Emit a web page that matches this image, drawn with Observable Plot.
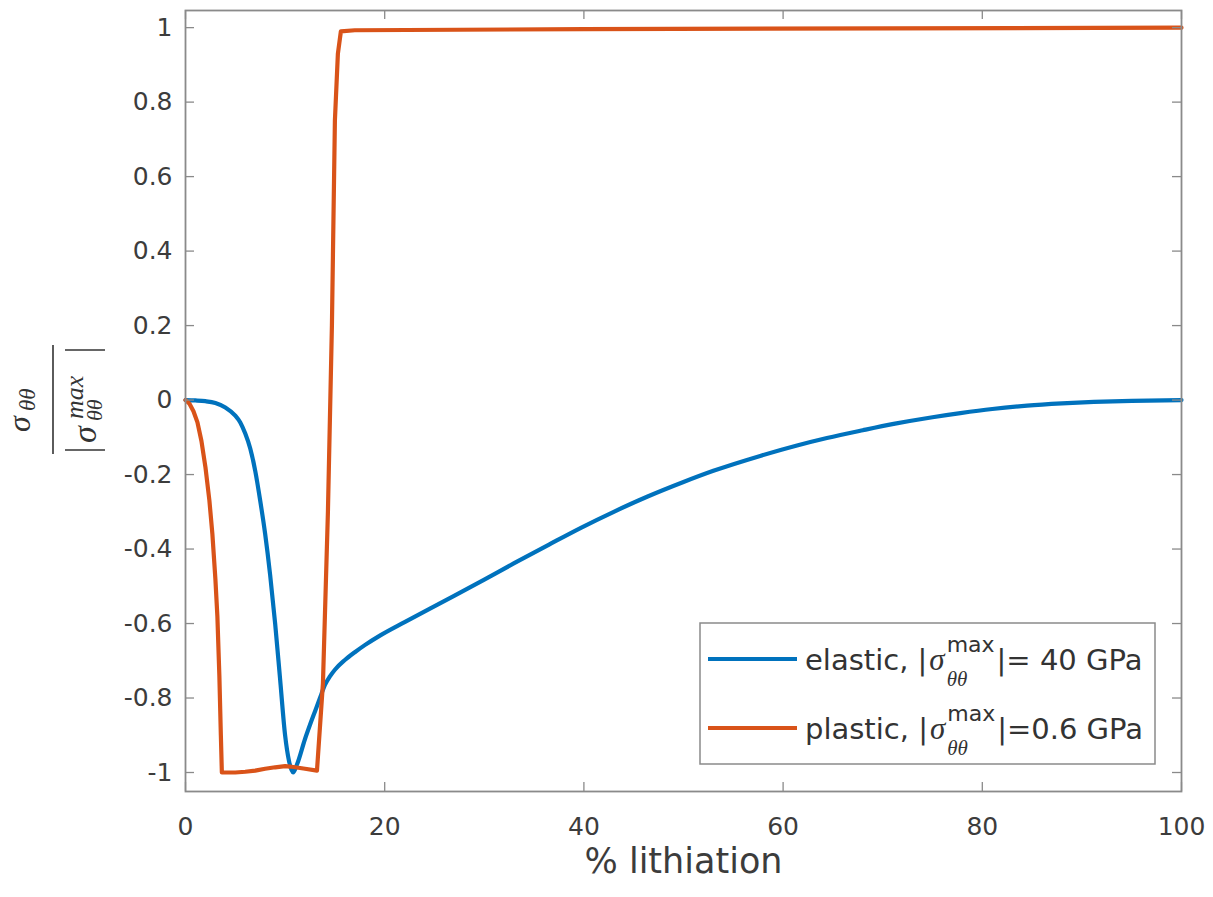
<!DOCTYPE html>
<html>
<head>
<meta charset="utf-8">
<script src="https://cdn.jsdelivr.net/npm/d3@7"></script>
<script src="https://cdn.jsdelivr.net/npm/@observablehq/plot@0.6"></script>
<style>
  html, body { margin: 0; padding: 0; background: #fff; }
  svg { display: block; }
</style>
</head>
<body>
<div id="chart"></div>
<script>
// ---- data ----
const xTicks = [0, 20, 40, 60, 80, 100];
const yTicks = [-1, -0.8, -0.6, -0.4, -0.2, 0, 0.2, 0.4, 0.6, 0.8, 1];
const xLabel = "% lithiation";

const elasticX = [0, 1, 2, 3, 4, 5, 5.5, 6, 6.5, 7, 7.5, 8, 8.5, 9, 9.5, 10, 10.4, 10.8, 11.2, 12, 12.5, 13, 13.5, 14, 14.5, 15, 16, 17, 18, 19.6, 22, 26.3, 30, 33, 36.5, 39.7, 43, 46.4, 50, 53, 57.7, 61.4, 64.4, 68, 71.1, 75, 77.8, 81, 84.5, 88, 91.2, 95, 100];
const elasticY = [0, -0.001, -0.003, -0.008, -0.02, -0.042, -0.06, -0.09, -0.13, -0.19, -0.27, -0.36, -0.47, -0.6, -0.75, -0.9, -0.97, -1.0, -0.978, -0.91, -0.872, -0.836, -0.80, -0.765, -0.742, -0.724, -0.698, -0.677, -0.658, -0.631, -0.596, -0.535, -0.482, -0.438, -0.388, -0.343, -0.300, -0.259, -0.220, -0.190, -0.150, -0.122, -0.102, -0.081, -0.064, -0.046, -0.035, -0.024, -0.015, -0.009, -0.005, -0.002, 0];

const plasticX = [0, 0.4, 0.8, 1.2, 1.6, 2.0, 2.4, 2.7, 3.0, 3.2, 3.4, 3.55, 3.65, 5, 6, 7, 8, 9, 10, 10.5, 11, 12, 13.2, 13.8, 14.3, 14.7, 15.0, 15.3, 15.6, 17, 40, 100];
const plasticY = [0, -0.01, -0.03, -0.06, -0.11, -0.18, -0.27, -0.36, -0.48, -0.58, -0.74, -0.9, -1.0, -1.0, -0.998, -0.995, -0.99, -0.986, -0.983, -0.984, -0.986, -0.99, -0.995, -0.76, -0.3, 0.2, 0.75, 0.93, 0.99, 0.993, 0.996, 1.0];

const seriesColors = ["#0072BD", "#D95319"];
const legendNames = ["elastic, |", "plastic, |"];
const legendValues = ["|= 40 GPa", "|=0.6 GPa"];

const elastic = elasticX.map((x, i) => ({x, y: elasticY[i]}));
const plastic = plasticX.map((x, i) => ({x, y: plasticY[i]}));

// ---- layout ----
const W = 1213, H = 897;
const mL = 185, mR = 32, mT = 10, mB = 106;
const fw = W - mL - mR, fh = H - mT - mB;
const axisColor = "#8a8a8a";
const textColor = "#3c3c3c";
const tk = 9;

const plot = Plot.plot({
  width: W, height: H,
  marginLeft: mL, marginRight: mR, marginTop: mT, marginBottom: mB,
  x: {domain: [0, 100]},
  y: {domain: [-1.051, 1.046]},
  style: {fontFamily: "DejaVu Sans", fontSize: "25px", color: textColor, background: "#fff"},
  marks: [
    Plot.line(elastic, {x: "x", y: "y", stroke: seriesColors[0], strokeWidth: 4.2, curve: "monotone-x"}),
    Plot.line(plastic, {x: "x", y: "y", stroke: seriesColors[1], strokeWidth: 4.2, curve: "linear"}),
    Plot.ruleX(xTicks, {x: d => d, stroke: axisColor, strokeWidth: 1.3, insetTop: fh - tk}),
    Plot.ruleX(xTicks, {x: d => d, stroke: axisColor, strokeWidth: 1.3, insetBottom: fh - tk}),
    Plot.ruleY(yTicks, {y: d => d, stroke: axisColor, strokeWidth: 1.3, insetRight: fw - tk}),
    Plot.ruleY(yTicks, {y: d => d, stroke: axisColor, strokeWidth: 1.3, insetLeft: fw - tk}),
    Plot.frame({stroke: axisColor, strokeWidth: 1.8}),
    Plot.axisX({ticks: xTicks, tickSize: 0, tickPadding: 26, label: null, tickFormat: d => String(d), fill: textColor}),
    Plot.axisY({ticks: yTicks, tickSize: 0, tickPadding: 13, label: null, tickFormat: d => String(+d.toFixed(1)), fill: textColor}),
    Plot.text([xLabel], {text: d => d, frameAnchor: "bottom", dy: 81, fontSize: 35, fill: textColor})
  ]
});
document.getElementById("chart").appendChild(plot);

const svg = d3.select(plot);
const mathFont = "Liberation Serif";

// ---- y-axis label (rotated fraction) ----
const yl = svg.append("g").attr("transform", "translate(56,400) rotate(-90)").attr("fill", "#333");
function mtext(g, str, x, y, size, italic, family) {
  return g.append("text").attr("x", x).attr("y", y).attr("font-size", size)
    .attr("text-anchor", "start")
    .attr("font-family", family || mathFont).attr("font-style", italic ? "italic" : "normal").text(str);
}
mtext(yl, "σ", -32, -26, 32, true);
mtext(yl, "θθ", -11, -21, 23, true);
yl.append("line").attr("x1", -54).attr("x2", 55).attr("y1", -3).attr("y2", -3).attr("stroke", "#333").attr("stroke-width", 1.6);
yl.append("line").attr("x1", -50).attr("x2", -50).attr("y1", 9).attr("y2", 49).attr("stroke", "#333").attr("stroke-width", 1.6);
yl.append("line").attr("x1", 50).attr("x2", 50).attr("y1", 9).attr("y2", 49).attr("stroke", "#333").attr("stroke-width", 1.6);
mtext(yl, "σ", -43, 40, 34, true);
mtext(yl, "max", -19, 27, 26, true);
mtext(yl, "θθ", -21, 46, 22, true);

// ---- legend ----
const lg = svg.append("g").attr("text-anchor", "start");
lg.append("rect").attr("x", 700).attr("y", 623).attr("width", 455).attr("height", 141)
  .attr("fill", "#fff").attr("stroke", axisColor).attr("stroke-width", 1.5);
const rowsY = [659, 728];
legendNames.forEach((name, i) => {
  const cy = rowsY[i];
  lg.append("line").attr("x1", 708).attr("x2", 797).attr("y1", cy).attr("y2", cy)
    .attr("stroke", seriesColors[i]).attr("stroke-width", 4.2);
  const base = cy + 11;
  const t1 = lg.append("text").attr("x", 805).attr("y", base).attr("font-size", 29).attr("text-anchor", "start")
    .attr("font-family", "DejaVu Sans").attr("fill", "#333").text(name);
  const x1 = 805 + t1.node().getComputedTextLength() + 2;
  const s = lg.append("text").attr("x", x1).attr("y", base).attr("font-size", 31).attr("text-anchor", "start")
    .attr("font-family", mathFont).attr("font-style", "italic").attr("fill", "#333").text("σ");
  const x2 = x1 + s.node().getComputedTextLength() + 2;
  const sup = lg.append("text").attr("x", x2).attr("y", base - 18).attr("font-size", 22).attr("text-anchor", "start")
    .attr("font-family", "DejaVu Sans").attr("fill", "#333").text("max");
  const sub = lg.append("text").attr("x", x2).attr("y", base + 16).attr("font-size", 21).attr("text-anchor", "start")
    .attr("font-family", mathFont).attr("font-style", "italic").attr("fill", "#333").text("θθ");
  const x3 = x2 + Math.max(sup.node().getComputedTextLength(), sub.node().getComputedTextLength()) + 2;
  lg.append("text").attr("x", x3).attr("y", base).attr("font-size", 29).attr("text-anchor", "start")
    .attr("font-family", "DejaVu Sans").attr("fill", "#333").text(legendValues[i]);
});
</script>
</body>
</html>
